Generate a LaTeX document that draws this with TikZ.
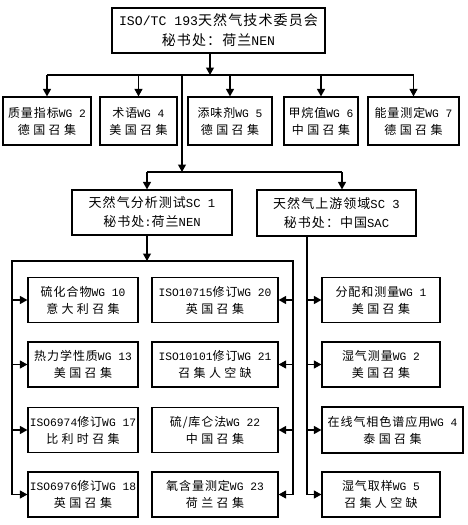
\documentclass[tikz,border=0pt]{standalone}
\usepackage{fontspec}
\setmainfont[LetterSpace=8]{Noto Sans CJK SC}
\newfontfamily\cjw[LetterSpace=28]{Noto Sans CJK SC}
\newfontfamily\lt[Scale=0.94]{Liberation Mono}
\usetikzlibrary{arrows.meta}
\tikzset{
  box/.style={draw, line width=1.2pt, align=center, inner sep=0pt, font=\fontsize{12}{17}\selectfont},
  wgl/.style={box, minimum width=110pt, minimum height=45pt},
  wgm/.style={box, minimum width=126pt, minimum height=45pt},
  wgs/.style={box, minimum width=118pt, minimum height=45pt},
  arr/.style={-{Triangle[length=7.5pt,width=8pt]}, line width=1.2pt},
  ln/.style={line width=1.2pt}
}
\begin{document}
\begin{tikzpicture}[x=1pt,y=-1pt]
\useasboundingbox (0,0) rectangle (467,525);
% top
\node[box, minimum width=213pt, minimum height=45pt, font=\fontsize{14}{20}\selectfont] (top) at (218.5,30.5)
  {{\lt ISO/TC 193}天然气技术委员会\\秘书处：荷兰{\lt NEN}};
% row 1
\node[box, minimum width=88pt, minimum height=48pt] (b1) at (47,121) {质量指标{\lt WG 2}\\{\cjw 德国召集}};
\node[box, minimum width=77pt, minimum height=48pt] (b2) at (138.5,121) {术语{\lt WG 4}\\{\cjw 美国召集}};
\node[box, minimum width=84pt, minimum height=48pt] (b3) at (230,121) {添味剂{\lt WG 5}\\{\cjw 德国召集}};
\node[box, minimum width=74pt, minimum height=48pt] (b4) at (321,121) {甲烷值{\lt WG 6}\\{\cjw 中国召集}};
\node[box, minimum width=91pt, minimum height=48pt] (b5) at (413.5,121) {能量测定{\lt WG 7}\\{\cjw 德国召集}};
% SC
\node[box, minimum width=160pt, minimum height=45pt, font=\fontsize{13}{19}\selectfont] (sc1) at (152,212.5)
  {天然气分析测试{\lt SC 1}\\秘书处{\lt :}荷兰{\lt NEN}};
\node[box, minimum width=159pt, minimum height=46pt, font=\fontsize{13}{19}\selectfont] (sc3) at (336.5,213)
  {天然气上游领域{\lt SC 3}\\秘书处：中国{\lt SAC}};
% SC1 WGs
\node[wgl] (l1) at (83,300) {硫化合物{\lt WG 10}\\{\cjw 意大利召集}};
\node[wgl] (l2) at (83,364.5) {热力学性质{\lt WG 13}\\{\cjw 美国召集}};
\node[wgl] (l3) at (83,430) {{\lt ISO6974}修订{\lt WG 17}\\{\cjw 比利时召集}};
\node[wgl] (l4) at (83,494.5) {{\lt ISO6976}修订{\lt WG 18}\\{\cjw 英国召集}};
\node[wgm] (m1) at (215,300) {{\lt ISO10715}修订{\lt WG 20}\\{\cjw 英国召集}};
\node[wgm] (m2) at (215,364.5) {{\lt ISO10101}修订{\lt WG 21}\\{\cjw 召集人空缺}};
\node[wgm] (m3) at (215,430) {硫/库仑法{\lt WG 22}\\{\cjw 中国召集}};
\node[wgm] (m4) at (215,494.5) {氧含量测定{\lt WG 23}\\{\cjw 荷兰召集}};
% SC3 WGs
\node[wgs] (s1) at (381,300) {分配和测量{\lt WG 1}\\{\cjw 美国召集}};
\node[wgs] (s2) at (381,364.5) {湿气测量{\lt WG 2}\\{\cjw 美国召集}};
\node[box, minimum width=141pt, minimum height=46pt] (s3) at (392.5,430) {在线气相色谱应用{\lt WG 4}\\{\cjw 泰国召集}};
\node[wgs] (s4) at (381,494.5) {湿气取样{\lt WG 5}\\{\cjw 召集人空缺}};
% coordinates
\coordinate (t1) at (210,75);
\coordinate (tr) at (182,75);
\coordinate (sb) at (182,172);
\coordinate (bt) at (147,261);
\coordinate (lx) at (12,261);
\coordinate (rx) at (293,261);
\coordinate (sx) at (307,236);
% connectors
\draw[arr] (top.south -| t1) -- (t1);
\draw[ln] (b1.north |- t1) -- (b5.north |- t1);
\foreach \n in {b1,b2,b3,b4,b5} \draw[arr] (\n.north |- t1) -- (\n.north);
\draw[arr] (tr) -- (sb);
\draw[ln] (147,172) -- (342,172);
\draw[arr] (147,172) -- (sc1.north -| 147,0);
\draw[arr] (342,172) -- (sc3.north -| 342,0);
\draw[arr] (sc1.south -| bt) -- (bt);
\draw[ln] (lx |- l4.west) -- (lx) -- (rx) -- (rx |- m4.east);
\foreach \i in {1,2,3,4} {
  \draw[arr] (lx |- l\i.west) -- (l\i.west);
  \draw[arr] (rx |- m\i.east) -- (m\i.east);
  \draw[arr] (sx |- s\i.west) -- (s\i.west);
}
\draw[ln] (sc3.south -| sx) -- (sx |- s4.west);
\end{tikzpicture}
\end{document}
